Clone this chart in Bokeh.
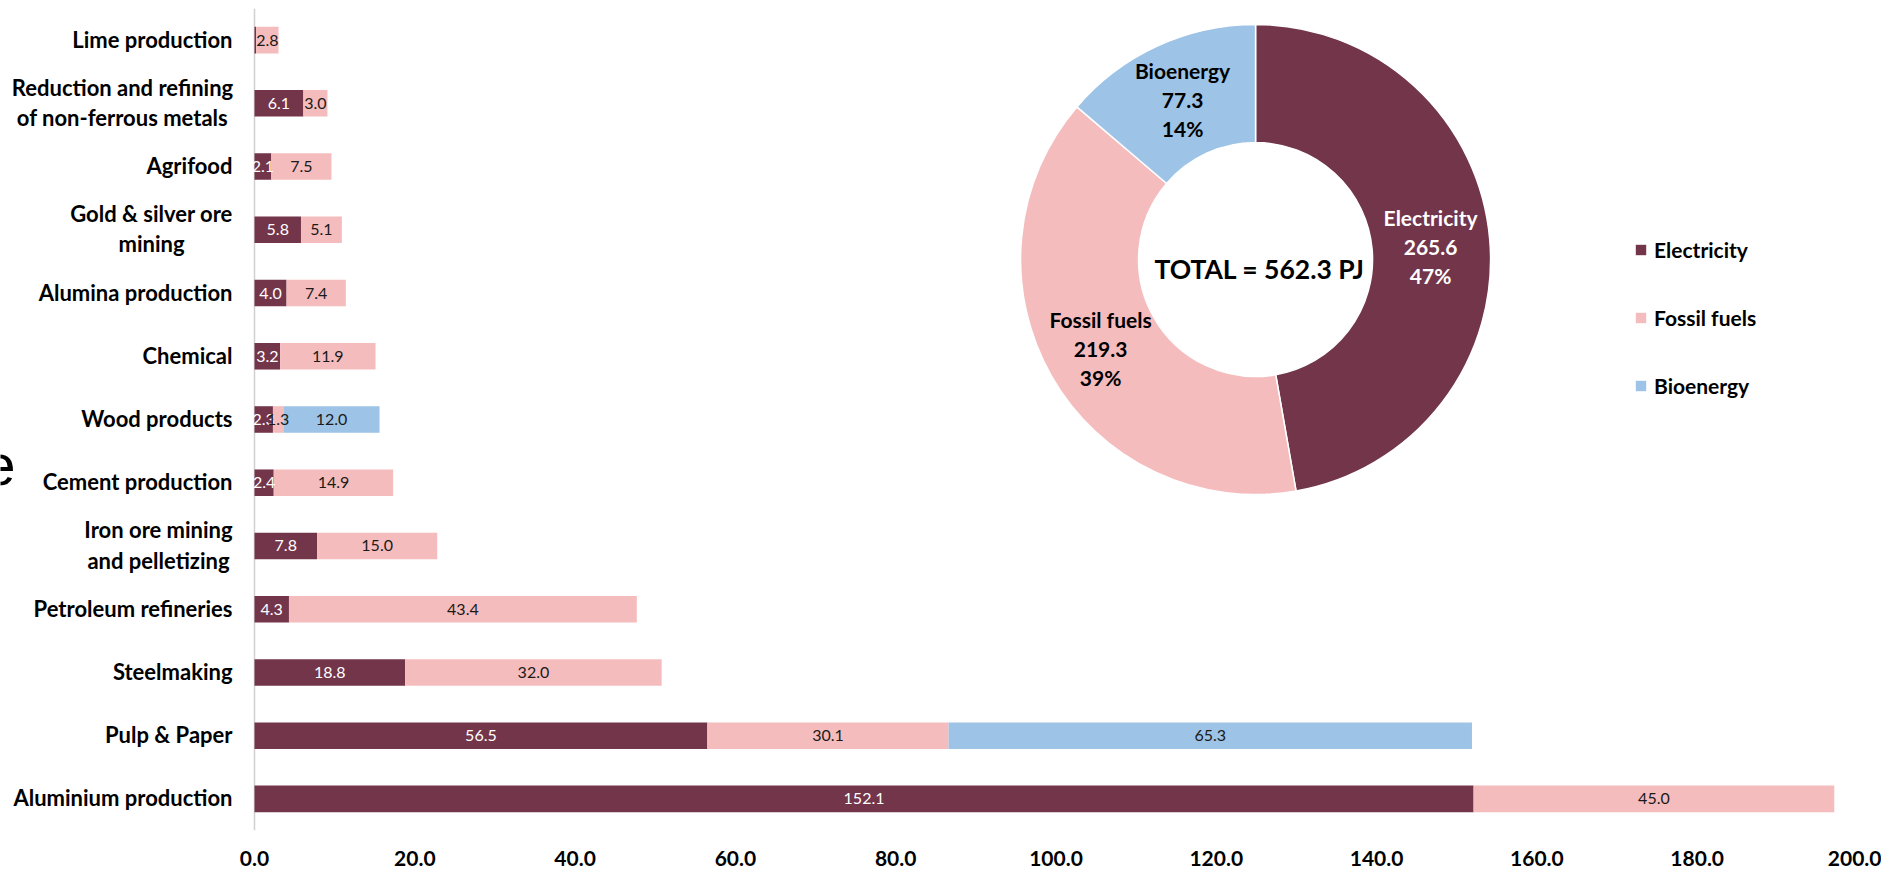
import math
from bokeh.plotting import figure
from bokeh.models import (Range1d, FixedTicker, PrintfTickFormatter, Span, Legend,
                          LegendItem, ColumnDataSource)
from bokeh.core.properties import value
from bokeh.embed import file_html
from bokeh.resources import INLINE

# ---------------- data (bottom row first) ----------------
categories = ["Aluminium production", "Pulp & Paper", "Steelmaking", "Petroleum refineries",
              "Iron ore mining\nand pelletizing", "Cement production", "Wood products",
              "Chemical", "Alumina production", "Gold & silver ore\nmining", "Agrifood",
              "Reduction and refining\nof non-ferrous metals", "Lime production"]
electricity = [152.1, 56.5, 18.8, 4.3, 7.8, 2.4, 2.3, 3.2, 4.0, 5.8, 2.1, 6.1, 0.2]
fossil_fuels = [45.0, 30.1, 32.0, 43.4, 15.0, 14.9, 1.3, 11.9, 7.4, 5.1, 7.5, 3.0, 2.8]
bioenergy = [0.0, 65.3, 0.0, 0.0, 0.0, 0.0, 12.0, 0.0, 0.0, 0.0, 0.0, 0.0, 0.0]
series_names = ["Electricity", "Fossil fuels", "Bioenergy"]

donut_names = ["Electricity", "Fossil fuels", "Bioenergy"]
donut_values = [265.6, 219.3, 77.3]
total_pj = 562.3
x_ticks = [0, 20, 40, 60, 80, 100, 120, 140, 160, 180, 200]

# ---------------- styles / layout ----------------
COLORS = ["#72354A", "#F5BCBD", "#9DC3E6"]
BAR_TEXT = ["white", "#1a1a1a", "#1a1a1a"]
FONT = "Lato"
W, H = 1881, 872
X_START = -31.69          # room on the left of zero for the category labels

p = figure(width=W, height=H, x_range=Range1d(X_START, 200), y_range=Range1d(-0.5, 12.5),
           output_backend="svg", toolbar_location=None,
           min_border_left=0, min_border_right=24, min_border_top=8, min_border_bottom=42)
p.outline_line_color = None
p.xgrid.visible = False
p.ygrid.visible = False
p.yaxis.visible = False

ax = p.xaxis[0]
ax.ticker = FixedTicker(ticks=x_ticks)
ax.formatter = PrintfTickFormatter(format="%.1f")
ax.axis_line_color = None
ax.major_tick_line_color = None
ax.minor_tick_line_color = None
ax.major_tick_out = 0
ax.major_tick_in = 0
ax.major_label_standoff = 20
ax.major_label_text_font = FONT
ax.major_label_text_font_style = "bold"
ax.major_label_text_font_size = "21px"
ax.major_label_text_color = "black"

p.add_layout(Span(location=0, dimension="height", line_color="#D0D0D0",
                  line_width=1.5, level="underlay"))

rows = list(range(len(categories)))
src = ColumnDataSource(dict(y=rows, elec=electricity, foss=fossil_fuels, bio=bioenergy))
renderers = p.hbar_stack(["elec", "foss", "bio"], y="y", height=0.42, source=src,
                         fill_color=COLORS, line_color=None)

# segment labels
lx, ly, lt, lc = [], [], [], []
for i in rows:
    start = 0.0
    for k, vals in enumerate([electricity, fossil_fuels, bioenergy]):
        v = vals[i]
        if v >= 1.0:
            lx.append(start + v / 2.0)
            ly.append(i)
            lt.append(f"{v:.1f}")
            lc.append(BAR_TEXT[k])
        start += v
p.text(x=lx, y=ly, text=lt, text_color=lc, text_align="center", text_baseline="middle",
       text_font=value(FONT), text_font_size="16px")

# category labels
two_line_offsets = {"Iron ore mining\nand pelletizing": -96,
                    "Gold & silver ore\nmining": -103,
                    "Reduction and refining\nof non-ferrous metals": -132}
single = [c for c in categories if "\n" not in c]
p.text(x=[0] * len(single), y=[categories.index(c) for c in single], text=single,
       x_offset=-22, y_offset=-1, text_align="right", text_baseline="middle",
       text_font=value(FONT), text_font_style="bold", text_font_size="22px",
       text_color="black")
for c, off in two_line_offsets.items():
    p.text(x=[0], y=[categories.index(c)], text=[c], x_offset=off, y_offset=-1,
           text_align="center", text_baseline="middle", text_line_height=1.12,
           text_font=value(FONT), text_font_style="bold", text_font_size="22px",
           text_color="black")

# stray fragment visible at the left edge of the reference
p.text(x=[-29.82], y=[5.10], text=["e"], y_offset=-11, text_align="right",
       text_baseline="alphabetic", text_font=value("Liberation Sans"),
       text_font_size="58px", text_color="black")

# ---------------- donut ----------------
DONUT_X, DONUT_Y = 124.9, 8.53
total = sum(donut_values)
starts, ends = [], []
a = math.pi / 2
for v in donut_values:
    starts.append(a)
    a -= 2 * math.pi * v / total
    ends.append(a)
p.annular_wedge(x=[DONUT_X] * 3, y=[DONUT_Y] * 3, inner_radius=117, outer_radius=235,
                inner_radius_units="screen", outer_radius_units="screen",
                start_angle=starts, end_angle=ends, direction="clock",
                fill_color=COLORS, line_color="white", line_width=1.5)

label_offsets = [(175, -13), (-155, 89), (-73, -160)]
label_colors = ["white", "black", "black"]
for name, v, (dx, dy), col in zip(donut_names, donut_values, label_offsets, label_colors):
    p.text(x=[DONUT_X], y=[DONUT_Y], text=[f"{name}\n{v:.1f}\n{100 * v / total_pj:.0f}%"],
           x_offset=dx, y_offset=dy, text_align="center", text_baseline="middle",
           text_line_height=1.15, text_font=value(FONT), text_font_style="bold",
           text_font_size="21px", text_color=col)
p.text(x=[DONUT_X], y=[DONUT_Y], text=[f"TOTAL = {total_pj:.1f} PJ"], x_offset=4, y_offset=9,
       text_align="center", text_baseline="middle", text_font=value(FONT),
       text_font_style="bold", text_font_size="26.5px", text_color="black")

# ---------------- legend ----------------
legend = Legend(items=[LegendItem(label=n, renderers=[r]) for n, r in zip(series_names, renderers)],
                location=(1634, 432), orientation="vertical", glyph_width=13, glyph_height=13,
                label_height=25, spacing=43, label_standoff=7, padding=0, margin=0,
                border_line_color=None, background_fill_alpha=0,
                label_text_font=FONT, label_text_font_style="bold",
                label_text_font_size="21px", label_text_color="black")
p.add_layout(legend)

open("out.html", "w").write(file_html(p, INLINE))
